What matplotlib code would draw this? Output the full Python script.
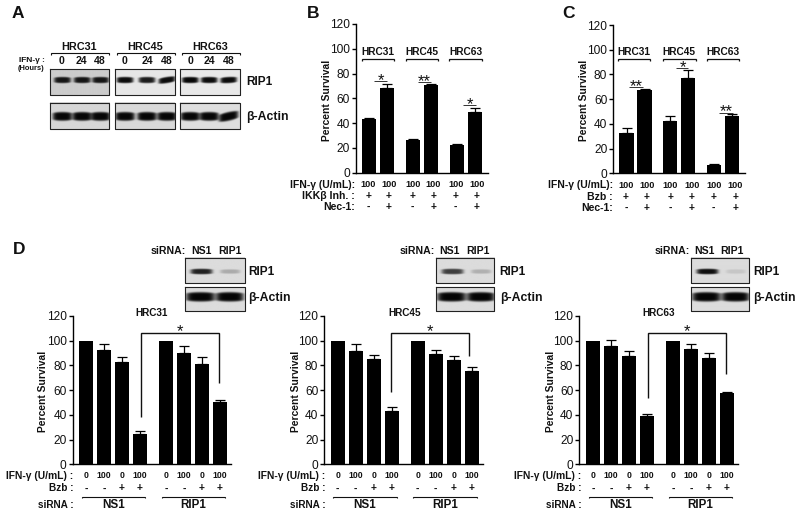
import numpy as np
import matplotlib
matplotlib.use('Agg')
import matplotlib.pyplot as plt

plt.rcParams['font.family'] = ['Liberation Sans', 'DejaVu Sans']

W, H = 800, 515

groups = ['HRC31', 'HRC45', 'HRC63']
yticks = [0, 20, 40, 60, 80, 100, 120]

b_values = [43, 68, 26, 70.5, 22.5, 49]
b_errors = [1.5, 3.5, 1.5, 1, 0.7, 3]
c_values = [33, 67, 42.5, 77, 7, 46.5]
c_errors = [3.5, 1.5, 3.5, 6.5, 0.7, 1.5]

d1_values = [100, 92.5, 83, 24.5, 100, 90, 81.5, 50.5]
d1_errors = [0, 5, 4, 2.5, 0, 6, 5, 1.5]
d2_values = [100, 91.5, 85, 43, 100, 89, 84.5, 75.5]
d2_errors = [0, 5.5, 3.5, 3, 0, 3.5, 3.5, 3]
d3_values = [100, 96, 87.5, 39, 100, 93, 86, 57.5]
d3_errors = [0, 4.5, 4, 2, 0, 4, 4, 1]

ifn_bc = ['100'] * 6
plus_bc = ['+'] * 6
nec1 = ['-', '+', '-', '+', '-', '+']
ifn_d = ['0', '100', '0', '100', '0', '100', '0', '100']
bzb_d = ['-', '-', '+', '+', '-', '-', '+', '+']
hours = ['0', '24', '48']
sirna_groups = ['NS1', 'RIP1']

fig = plt.figure(figsize=(W / 100, H / 100), dpi=100, facecolor='white')
ov = fig.add_axes([0, 0, 1, 1], zorder=5)
ov.set_xlim(0, W)
ov.set_ylim(H, 0)
ov.axis('off')
ov.patch.set_alpha(0)


def T(x, y, s, size=7.4, ha='center', weight='bold', **kw):
    ov.text(x, y, s, fontsize=size, ha=ha, va='center', fontweight=weight,
            color='#111111', **kw)


def L(xs, ys, lw=0.9, color='#111111'):
    ov.plot(xs, ys, color=color, lw=lw, solid_capstyle='butt', solid_joinstyle='miter')


def chart(x0, x1, y120, y0, centers, values, errors, first_c, pitch):
    ax = fig.add_axes([x0 / W, 1 - y0 / H, (x1 - x0) / W, (y0 - y120) / H])
    pos = (np.array(centers) - first_c) / pitch
    ax.set_xlim((x0 - first_c) / pitch, (x1 - first_c) / pitch)
    ax.set_ylim(0, 120)
    ax.bar(pos, values, width=0.79, color='black', zorder=2)
    vals = np.array(values, float)
    errs = np.array(errors, float)
    keep = errs > 0
    ax.errorbar(pos[keep], vals[keep], yerr=[np.zeros(keep.sum()), errs[keep]],
                fmt='none', ecolor='black', elinewidth=0.9, capsize=3.4,
                capthick=0.9, zorder=1)
    for s in ('top', 'right'):
        ax.spines[s].set_visible(False)
    for s in ('left', 'bottom'):
        ax.spines[s].set_linewidth(1.0)
    ax.set_xticks([])
    ax.set_yticks(yticks)
    ax.tick_params(axis='y', length=3.2, width=1.0, pad=1.2, labelsize=8.6,
                   labelcolor='#111111')
    ax.patch.set_alpha(0)
    return ax


def band_img(box, bands, bg):
    """Blot image: bands = (x centre, y centre, half width, half height, darkness, slope)."""
    bx0, bx1, by0, by1 = box
    nx = int((bx1 - bx0) * 4)
    ny = int((by1 - by0) * 4)
    xs = np.linspace(bx0, bx1, nx)
    ys = np.linspace(by0, by1, ny)
    X, Y = np.meshgrid(xs, ys)
    img = np.full(X.shape, float(bg))
    for cx, cy, hw, hh, dark, slope in bands:
        u = (X - cx) / hw
        v = (Y - (cy - slope * (X - cx))) / (hh * (0.8 + 0.2 * np.clip(1 - u ** 2, 0, 1)))
        prof = np.exp(-np.abs(u) ** 6 - np.abs(v) ** 6)
        img = img * (1 - dark * prof)
    ov.imshow(img, extent=(bx0, bx1, by1, by0), cmap='gray', vmin=0, vmax=1,
              aspect='auto', interpolation='bilinear', zorder=1)
    ov.plot([bx0, bx1, bx1, bx0, bx0], [by0, by0, by1, by1, by0],
            color='#222222', lw=0.8, zorder=2)


# ---------- Panel letters ----------
for x, y, s in [(17.5, 14, 'A'), (313, 14, 'B'), (568.5, 14, 'C'), (19.5, 250, 'D')]:
    T(x, y, s, size=12.5)

# ---------- Panel A ----------
a_boxes = [(49.7, 109.3), (115, 175), (180.3, 240.3)]
a_centers = [(62, 81.7, 100), (125, 147, 167), (190.5, 209.5, 229)]
a_bg_rip = [0.80, 0.90, 0.91]
a_bg_act = [0.84, 0.85, 0.87]
a_rip_dark = [(.9, .9, .9), (.95, .88, .95), (.97, .95, .95)]
a_rip_slope = [(0, 0, 0), (0, 0, .15), (0, 0, .05)]
a_act_slope = [(0, 0, 0), (0, 0, 0), (0, 0, .2)]
for i, g in enumerate(groups):
    bx0, bx1 = a_boxes[i]
    T((bx0 + bx1) / 2, 46.7, g, size=7.8)
    L([bx0 + 1.5, bx0 + 1.5, bx1 - 0.5, bx1 - 0.5], [54.5, 53.3, 53.3, 54.5], lw=0.8)
    for c, h in zip(a_centers[i], hours):
        T(c, 60.7, h, size=7.6)
    band_img((bx0, bx1, 69, 95),
             [(c, 80, 8.4, 3.2, d, s) for c, d, s in zip(a_centers[i], a_rip_dark[i], a_rip_slope[i])],
             a_bg_rip[i])
    band_img((bx0, bx1, 103, 129.3),
             [(c, 117, 9.8, 4.4, .97, s) for c, s in zip(a_centers[i], a_act_slope[i])],
             a_bg_act[i])
T(45, 60.5, 'IFN-γ :', size=6.0, ha='right')
T(44, 69, '(Hours)', size=5.4, ha='right')
T(246.5, 81.7, 'RIP1', size=8.6, ha='left')
T(246.5, 117, 'β-Actin', size=8.8, ha='left')

# ---------- Panels B and C ----------
bc_panels = [
    dict(x0=356, x1=488, top=24, bot=172.7, vals=b_values, errs=b_errors,
         centers=[369, 387, 413, 431, 457, 475], ylab=326.7, rx=355,
         rows=(184.5, 195.8, 207.3), row2='IKKβ Inh. :',
         vx=[368.3, 389, 412.7, 433.3, 455.7, 476.7],
         hrc=[378.3, 422, 466], br=[(362.3, 394.3), (406, 437.7), (449.3, 481.7)],
         stars=[(380.7, 78, '*', 374, 386.7, 81), (424.3, 79, '**', 417.5, 431, 82),
                (470, 102, '*', 462.7, 476, 105.3)]),
    dict(x0=613.3, x1=745, top=25, bot=173.3, vals=c_values, errs=c_errors,
         centers=[626.5, 644.5, 670, 688, 714, 732], ylab=584, rx=613,
         rows=(185.2, 196.7, 208), row2='Bzb :',
         vx=[626, 646.7, 670.3, 691.7, 713.7, 735.3],
         hrc=[634.3, 679, 723.3], br=[(617.7, 650), (663.3, 695.7), (707, 739.3)],
         stars=[(636, 84, '**', 629.3, 642.7, 87), (683.3, 65, '*', 675.7, 688.3, 68),
                (726, 109, '**', 719.3, 732.7, 112.7)]),
]
for p in bc_panels:
    chart(p['x0'], p['x1'], p['top'], p['bot'], p['centers'], p['vals'], p['errs'],
          p['centers'][0], 18)
    T(p['ylab'], 100, 'Percent Survival', size=7.4, rotation=90)
    T(p['rx'], p['rows'][0], 'IFN-γ (U/mL):', size=7.5, ha='right')
    T(p['rx'], p['rows'][1], p['row2'], size=7.6, ha='right')
    T(p['rx'], p['rows'][2], 'Nec-1:', size=7.6, ha='right')
    for x, a, b, c in zip(p['vx'], ifn_bc, plus_bc, nec1):
        T(x, p['rows'][0], a, size=6.6)
        T(x, p['rows'][1], b, size=7.4)
        T(x, p['rows'][2], c, size=7.4)
    for g, hx, (l, r) in zip(groups, p['hrc'], p['br']):
        T(hx, 52.3, g, size=7.3)
        L([l, l, r, r], [60.7, 58.7, 58.7, 60.7], lw=0.9)
    for sx, sy, s, l, r, ly in p['stars']:
        T(sx, sy + 2.5, s, size=12, weight='normal')
        L([l, r], [ly, ly], lw=0.7, color='#333333')

# ---------- Panel D ----------
d_panels = [
    dict(x0=72.7, x1=230.7, vals=d1_values, errs=d1_errors, first=86, ylab=43.3, rx=73.3,
         hrc='HRC31', tx=152, bl=141, bld=416.7, brr=219, brd=383, sx=180,
         box=(185.3, 245), rip=(.85, .22), nsx=201.7, rix=230, sr=186, lab=248.3),
    dict(x0=324.3, x1=482.7, vals=d2_values, errs=d2_errors, first=337.7, ylab=295.7, rx=325.7,
         hrc='HRC45', tx=404.3, bl=391.3, bld=391.7, brr=469, brd=355.7, sx=429.7,
         box=(435.7, 494.3), rip=(.72, .2), nsx=449.7, rix=478.3, sr=435, lab=499.7),
    dict(x0=579.3, x1=738.3, vals=d3_values, errs=d3_errors, first=593, ylab=550.7, rx=581.7,
         hrc='HRC63', tx=658.7, bl=648, bld=398, brr=726, brd=374.3, sx=686.7,
         box=(690.7, 748.7), rip=(.93, .1), nsx=704, rix=732.3, sr=690.3, lab=753.3),
]
for p in d_panels:
    f = p['first']
    centers = [f, f + 18, f + 36, f + 54, f + 80, f + 98, f + 116, f + 134]
    chart(p['x0'], p['x1'], 316, 464.3, centers, p['vals'], p['errs'], f, 18)
    T(p['ylab'], 391.7, 'Percent Survival', size=7.4, rotation=90)
    T(p['tx'], 312.7, p['hrc'], size=7.2)
    L([p['bl'], p['bl'], p['brr'], p['brr']], [p['bld'], 333.3, 333.3, p['brd']], lw=1.0)
    T(p['sx'], 331.5, '*', size=12, weight='normal')
    T(p['rx'], 475.7, 'IFN-γ (U/mL) :', size=7.4, ha='right')
    T(p['rx'], 488.3, 'Bzb :', size=7.2, ha='right')
    T(p['rx'], 505, 'siRNA :', size=7.2, ha='right')
    for x, a, b in zip(centers, ifn_d, bzb_d):
        T(x, 475.7, a, size=6.2)
        T(x, 488.5, b, size=7.4)
    for k, g in enumerate(sirna_groups):
        c0 = centers[0] if k == 0 else centers[4]
        l, r = c0 - 4.3, c0 + 59
        L([l, l, r, r], [498, 496.7, 496.7, 498], lw=0.8)
        T((l + r) / 2, 504.6, g, size=8.4)
    # blots
    bx0, bx1 = p['box']
    band_img((bx0, bx1, 257.7, 283.3),
             [(bx0 + 16.4, 272, 11, 2.8, p['rip'][0], 0),
              (bx0 + 45, 272, 10, 2.2, p['rip'][1], 0)], 0.86)
    band_img((bx0, bx1, 287.3, 311),
             [(bx0 + 15.4, 297, 14.5, 4.8, .98, 0),
              (bx0 + 44.6, 297, 14, 4.8, .98, 0)], 0.86)
    T(p['sr'], 250.7, 'siRNA:', size=7.6, ha='right')
    T(p['nsx'], 250.7, 'NS1', size=7.6)
    T(p['rix'], 250.7, 'RIP1', size=7.6)
    T(p['lab'], 271.7, 'RIP1', size=8.6, ha='left')
    T(p['lab'], 297.7, 'β-Actin', size=8.8, ha='left')

ov.set_xlim(0, W)
ov.set_ylim(H, 0)
fig.savefig('out.png', dpi=100)
